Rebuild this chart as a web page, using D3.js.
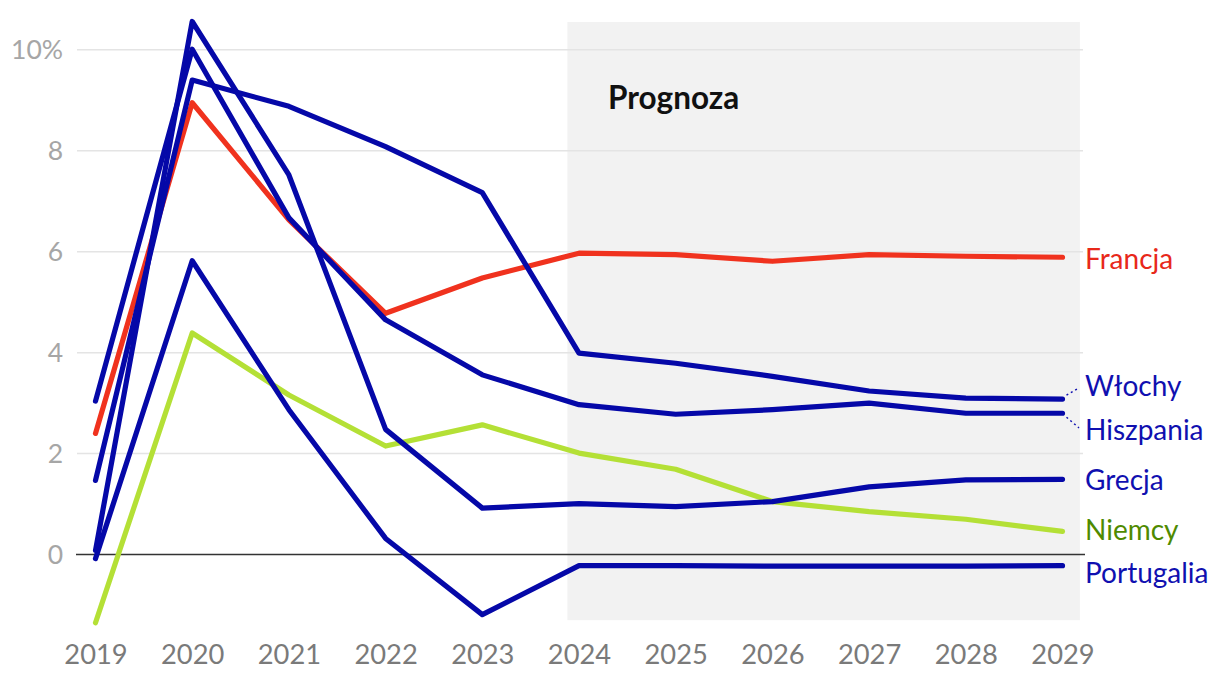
<!DOCTYPE html>
<html><head><meta charset="utf-8">
<script src="https://cdn.jsdelivr.net/npm/d3@7"></script>
<style>
body{margin:0;background:#fff;}
svg{display:block;font-family:Lato, "Noto Sans", sans-serif;}
</style></head>
<body><svg id="c" width="1220" height="678"></svg>
<script>
const years = [2019,2020,2021,2022,2023,2024,2025,2026,2027,2028,2029];
const francja    = [2.40, 8.95, 6.63, 4.78, 5.48, 5.97, 5.94, 5.81, 5.94, 5.91, 5.89];
const wlochy     = [1.47, 9.40, 8.88, 8.08, 7.17, 3.99, 3.79, 3.53, 3.24, 3.10, 3.08];
const hiszpania  = [3.04, 10.01, 6.67, 4.65, 3.56, 2.97, 2.78, 2.87, 3.00, 2.80, 2.80];
const grecja     = [0.08, 10.56, 7.52, 2.48, 0.92, 1.01, 0.95, 1.05, 1.34, 1.48, 1.49];
const niemcy     = [-1.35, 4.39, 3.16, 2.15, 2.57, 2.01, 1.69, 1.05, 0.85, 0.70, 0.46];
const portugalia = [-0.08, 5.82, 2.87, 0.32, -1.19, -0.22, -0.22, -0.23, -0.23, -0.23, -0.22];
const yTicks = [0, 2, 4, 6, 8, 10];
const forecastLabel = "Prognoza";

const series = [
  {name:"Francja", values:francja, color:"#f0321e", label:"#e8281a"},
  {name:"Niemcy", values:niemcy, color:"#b4e036", label:"#4f8a00"},
  {name:"Portugalia", values:portugalia, color:"#0508a8", label:"#1010b0"},
  {name:"Grecja", values:grecja, color:"#0508a8", label:"#1010b0"},
  {name:"Hiszpania", values:hiszpania, color:"#0508a8", label:"#1010b0"},
  {name:"Włochy", values:wlochy, color:"#0508a8", label:"#1010b0"}
];

const svg = d3.select("#c");
const x = d3.scaleLinear().domain([2019, 2029]).range([95.5, 1062.5]);
const y = d3.scaleLinear().domain([-1.3, 10.55]).range([620.2, 22]);

// forecast shading
svg.append("rect")
  .attr("x", x(2023.88)).attr("y", y(10.55))
  .attr("width", x(2029.18) - x(2023.88)).attr("height", y(-1.3) - y(10.55))
  .attr("fill", "#f2f2f2");

// gridlines
svg.append("g").selectAll("line").data(yTicks.filter(d => d !== 0)).join("line")
  .attr("x1", 77).attr("x2", 1083)
  .attr("y1", d => y(d)).attr("y2", d => y(d))
  .attr("stroke", "#e4e4e4").attr("stroke-width", 1.5);

svg.append("line").attr("x1", 76).attr("x2", 1085)
  .attr("y1", y(0)).attr("y2", y(0))
  .attr("stroke", "#333").attr("stroke-width", 1.5);

// y axis
const yAxis = d3.axisLeft(y).tickValues(yTicks).tickSize(0)
  .tickFormat(d => d === 10 ? "10%" : String(d));
const gy = svg.append("g").attr("transform", "translate(63,0)").call(yAxis);
gy.select(".domain").remove();
gy.selectAll("text").attr("x", 0).attr("dy", "0.34em")
  .attr("font-size", 26.5).attr("fill", "#a6a6a6").attr("font-family", "Lato");

// x axis
const xAxis = d3.axisBottom(x).tickValues(years).tickSize(0).tickFormat(d3.format("d"));
const gx = svg.append("g").attr("transform", "translate(0,638)").call(xAxis);
gx.select(".domain").remove();
gx.selectAll("text").attr("y", 0).attr("dy", "0.95em")
  .attr("font-size", 27.3).attr("fill", "#7a7a7a").attr("font-family", "Lato");

// forecast label
svg.append("text").attr("x", x(2024.3)).attr("y", y(8.82))
  .attr("font-size", 31.5).attr("font-weight", "bold").attr("fill", "#111")
  .attr("font-family", "Lato")
  .text(forecastLabel);

// lines
const line = d3.line().x((d, i) => x(years[i])).y(d => y(d));
svg.append("g").selectAll("path").data(series).join("path")
  .attr("d", d => line(d.values))
  .attr("fill", "none").attr("stroke", d => d.color)
  .attr("stroke-width", 5.2).attr("stroke-linecap", "round").attr("stroke-linejoin", "round");

// labels
const nudge = {"Francja":-0.03, "Włochy":0.26, "Hiszpania":-0.33, "Grecja":-0.01, "Niemcy":0.02, "Portugalia":-0.14};
const lab = svg.append("g");
series.forEach(s => {
  const last = s.values[s.values.length - 1];
  lab.append("text").attr("x", 1085).attr("y", y(last + nudge[s.name]))
    .attr("dy", "0.36em").attr("font-size", 28).attr("fill", s.label)
    .attr("font-family", "Lato").text(s.name);
});
// connectors
const conn = [
  {v:wlochy[10], t:wlochy[10] + 0.26},
  {v:hiszpania[10], t:hiszpania[10] - 0.33}
];
svg.append("g").selectAll("line").data(conn).join("line")
  .attr("x1", x(2029) + 4).attr("x2", 1079)
  .attr("y1", d => y(d.v) + (d.t > d.v ? -4 : 4))
  .attr("y2", d => y(d.t) + (d.t > d.v ? 2 : -2))
  .attr("stroke", "#1010b0").attr("stroke-width", 1.5).attr("stroke-dasharray", "2,3");
</script></body></html>
